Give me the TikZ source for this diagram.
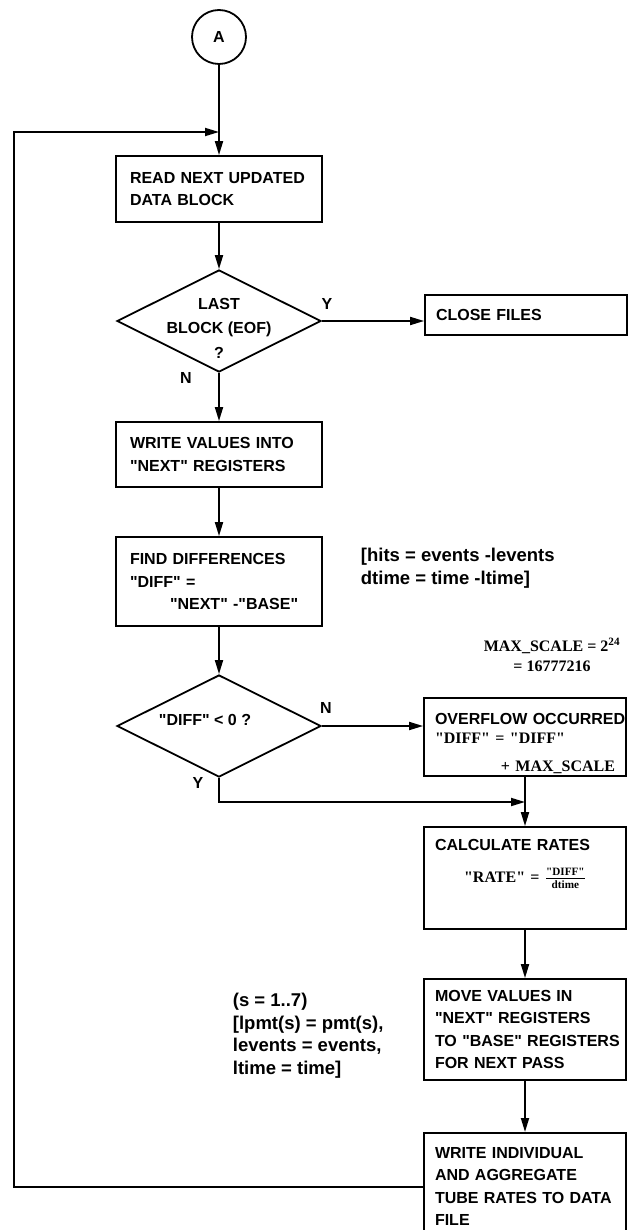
\documentclass[tikz,border=0pt]{standalone}
\usepackage{amsmath}
\usepackage{fontspec}
\setmainfont{Liberation Sans}[Ligatures = TeXOff]
\newfontfamily\notefont{Liberation Serif}[Ligatures = TeXOff]
\usetikzlibrary{shapes.geometric, arrows.meta}
\hyphenpenalty = 10000
\exhyphenpenalty = 10000

\begin{document}
\begin{tikzpicture}[x = 1pt, y = -1pt, line width = 1.8pt,
        font = \fontsize{16}{22.5}\selectfont\bfseries,
        > = {Triangle[length = 14pt, width = 8pt]},
        box/.style = {draw, rectangle, align = left, inner ysep = 0pt, minimum height = #1},
        mainbox/.style = {box = #1, text width = 178pt, inner xsep = 14pt},
        sidebox/.style = {box = #1, text width = 180pt, inner xsep = 11pt},
        decision/.style = {draw, diamond, minimum width = 204pt, minimum height = 102pt, inner sep = 0pt},
        yn/.style = {inner sep = 0pt},
        note/.style = {align = left, inner sep = 0pt, anchor = west, font = \fontsize{18.5}{22.5}\selectfont\bfseries}]
    \useasboundingbox (0,0) rectangle (628,1230);
    \clip (0,0) rectangle (628,1230);

    % main column
    \node[draw, circle, minimum size = 54pt, inner sep = 0pt] (conn) at (219,37) {A};
    \node[mainbox = 66pt] (read) at (219,189) {READ NEXT UPDATED\\DATA BLOCK};
    \node[decision, label = {[align = center, yshift = -7pt]center:LAST\\[2pt]BLOCK (EOF)\\[2pt]?}] (last) at (219,321) {};
    \node[mainbox = 65pt] (write) at (219,454.5) {WRITE VALUES INTO\\"NEXT" REGISTERS};
    \node[mainbox = 89pt] (find) at (219,581.5) {FIND DIFFERENCES\\"DIFF" =\\\hspace*{40pt}"NEXT" -"BASE"};
    \node[decision, label = {[xshift = -14pt, yshift = 6pt]center:"DIFF" < 0 ?}] (diff) at (219,726) {};

    % right column
    \node[sidebox = 40pt] (close) at (526,315) {CLOSE FILES};
    \node[sidebox = 78pt] (over) at (525,737)
        {\rule{0pt}{23.5pt}OVERFLOW~OCCURRED\\[-3pt]{\notefont "DIFF" = "DIFF"}\\[5pt]\makebox[\linewidth][r]{\notefont + MAX\_SCALE}};
    \node[sidebox = 102pt] (calc) at (525,878)
        {CALCULATE RATES\\[10pt]\makebox[\linewidth]{\notefont "RATE" = $\frac{\text{"DIFF"}}{\text{dtime}}$}\\[12pt]\mbox{}};
    \node[sidebox = 101pt] (move) at (525,1029.5) {MOVE VALUES IN\\"NEXT" REGISTERS\\TO~"BASE"~REGISTERS\\FOR NEXT PASS};
    \node[sidebox = 107.5pt, anchor = north] (store) at (525,1132) {WRITE INDIVIDUAL\\AND AGGREGATE\\TUBE~RATES~TO~DATA\\FILE};

    % notes
    \node[note] (diffnote) at (360,568) {[hits = events -levents\\dtime = time -ltime]};
    \node[align = center, inner sep = 0pt, font = \fontsize{16}{20}\selectfont\bfseries\notefont] (scalenote) at (552,655)
        {MAX\_SCALE = 2\textsuperscript{24}\\= 16777216};
    \node[note] (copynote) at (232,1035.5) {(s = 1..7)\\{}[lpmt(s) = pmt(s),\\levents = events,\\ltime = time]};

    \node[yn] (lastyes) at (327,304) {Y};
    \node[yn] (lastno) at (186,378) {N};
    \node[yn] (diffno) at (326,708) {N};
    \node[yn] (diffyes) at (198,783) {Y};

    \coordinate (top) at (219,132);
    \coordinate (back) at (14,1184);
    \coordinate (merge) at (525,802);

    \draw[->] (conn) -- (read);
    \draw[->] (read) -- (last);
    \draw[->] (last.east) -- (last.east -| close.west);
    \draw[->] (last) -- (write);
    \draw[->] (write) -- (find);
    \draw[->] (find) -- (diff);
    \draw[->] (diff.east) -- (diff.east -| over.west);
    \draw[->] (diff.south) |- (merge);
    \draw[->] (over) -- (calc);
    \draw[->] (calc) -- (move);
    \draw[->] (move) -- (store);
    \draw[->] (store.west) -- (store.west -| back) |- (top);
\end{tikzpicture}
\end{document}
